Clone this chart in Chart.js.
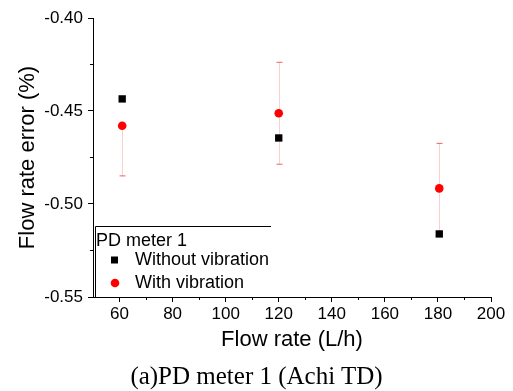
<!DOCTYPE html>
<html>
<head>
<meta charset="utf-8">
<script src="https://cdn.jsdelivr.net/npm/chart.js@4"></script>
<style>
  body { margin: 0; background: #fff; }
  #wrap { position: relative; width: 513px; height: 391px; }
  #caption {
    position: absolute; left: 0; top: 361px; width: 513px;
    text-align: center; font: 25px "Liberation Serif", serif; line-height: 30px; color: #000;
  }
</style>
</head>
<body>
<div id="wrap">
  <canvas id="chart" width="513" height="391"></canvas>
  <div id="caption">(a)PD meter 1 (Achi TD)</div>
</div>
<script>
// flow rates (L/h) and flow rate error (%)
const flowRates = [61, 120, 180.5];
const withoutVibration = [-0.4435, -0.4645, -0.5161];
const withVibration = [-0.4579, -0.4512, -0.4916];
const vibErrPlus = [0, 0.0274, 0.0242];
const vibErrMinus = [0.027, 0.0274, 0.024];

const xTicks = [60, 80, 100, 120, 140, 160, 180, 200];
const xMinor = [70, 90, 110, 130, 150, 170, 190];
const yTicks = [-0.55, -0.50, -0.45, -0.40];
const yMinor = [-0.525, -0.475, -0.425];

const legendTitle = 'PD meter 1';
const font = '"Liberation Sans", Arial, sans-serif';

const errorBars = {
  id: 'errorBars',
  beforeDatasetsDraw(chart) {
    const {ctx, scales: {x, y}} = chart;
    ctx.save();
    ctx.lineWidth = 1;
    flowRates.forEach((fr, i) => {
      const px = Math.round(x.getPixelForValue(fr)) + 0.5;
      const py = y.getPixelForValue(withVibration[i]);
      const top = y.getPixelForValue(withVibration[i] + vibErrPlus[i]);
      const bot = y.getPixelForValue(withVibration[i] - vibErrMinus[i]);
      ctx.strokeStyle = 'rgba(240,120,120,0.35)';
      ctx.beginPath();
      ctx.moveTo(px, top); ctx.lineTo(px, bot);
      ctx.stroke();
      ctx.strokeStyle = 'rgba(230,60,60,0.8)';
      ctx.beginPath();
      if (vibErrPlus[i] > 0) { ctx.moveTo(px - 3, top); ctx.lineTo(px + 3, top); }
      ctx.moveTo(px - 3, bot); ctx.lineTo(px + 3, bot);
      ctx.stroke();
    });
    ctx.restore();
  }
};

const extras = {
  id: 'extras',
  afterDraw(chart) {
    const {ctx, scales: {x, y}, chartArea} = chart;
    ctx.save();
    ctx.strokeStyle = '#000';
    ctx.lineWidth = 1;
    // minor ticks
    ctx.beginPath();
    yMinor.forEach(v => {
      const py = Math.round(y.getPixelForValue(v)) + 0.5;
      ctx.moveTo(chartArea.left, py); ctx.lineTo(chartArea.left - 3, py);
    });
    xMinor.forEach(v => {
      const px = Math.round(x.getPixelForValue(v)) + 0.5;
      ctx.moveTo(px, chartArea.bottom); ctx.lineTo(px, chartArea.bottom + 3);
    });
    ctx.stroke();

    // legend box (top and left edges)
    const lx = 95.5, ly = 226.5, rx = 271;
    ctx.beginPath();
    ctx.moveTo(lx, chartArea.bottom); ctx.lineTo(lx, ly); ctx.lineTo(rx, ly);
    ctx.stroke();

    ctx.fillStyle = '#000';
    ctx.font = '18px ' + font;
    ctx.textBaseline = 'middle';
    ctx.fillText(legendTitle, 96, 241);
    const rows = [260, 283];
    chart.data.datasets.forEach((ds, i) => {
      const cy = rows[i];
      ctx.fillStyle = ds.backgroundColor;
      if (ds.pointStyle === 'rect') {
        ctx.fillRect(111, cy - 3.5, 7, 7);
      } else {
        ctx.beginPath();
        ctx.arc(115, cy, 4.3, 0, Math.PI * 2);
        ctx.fill();
      }
      ctx.fillStyle = '#000';
      ctx.fillText(ds.label, 135, cy);
    });
    ctx.restore();
  }
};

new Chart(document.getElementById('chart'), {
  type: 'scatter',
  data: {
    datasets: [{
      label: 'Without vibration',
      data: flowRates.map((fr, i) => ({x: fr, y: withoutVibration[i]})),
      pointStyle: 'rect',
      pointRadius: 5.2,
      backgroundColor: '#000',
      borderColor: '#000',
      borderWidth: 0
    }, {
      label: 'With vibration',
      data: flowRates.map((fr, i) => ({x: fr, y: withVibration[i]})),
      pointStyle: 'circle',
      pointRadius: 4.3,
      backgroundColor: '#ff0000',
      borderColor: '#ff0000',
      borderWidth: 0
    }]
  },
  options: {
    responsive: false,
    animation: false,
    events: [],
    layout: {padding: {left: 0, top: 18, right: 22, bottom: 30}},
    plugins: {
      legend: {display: false},
      tooltip: {enabled: false}
    },
    scales: {
      x: {
        type: 'linear',
        min: 50,
        max: 200,
        afterBuildTicks: s => { s.ticks = xTicks.map(v => ({value: v})); },
        afterFit: s => { s.height = 64; },
        border: {display: true, color: '#000', width: 1},
        grid: {drawOnChartArea: false, drawTicks: true, tickLength: 5, tickColor: '#000'},
        ticks: {color: '#000', padding: 2, font: {family: font, size: 17}, maxRotation: 0},
        title: {
          display: true,
          text: 'Flow rate (L/h)',
          color: '#000',
          padding: 0,
          font: {family: font, size: 22, lineHeight: 1.9}
        }
      },
      y: {
        type: 'linear',
        min: -0.55,
        max: -0.40,
        afterBuildTicks: s => { s.ticks = yTicks.map(v => ({value: v})); },
        afterFit: s => { s.width = 93; },
        border: {display: true, color: '#000', width: 1},
        grid: {drawOnChartArea: false, drawTicks: true, tickLength: 5, tickColor: '#000'},
        ticks: {
          color: '#000',
          padding: 5,
          font: {family: font, size: 17},
          callback: v => v.toFixed(2)
        },
        title: {
          display: true,
          text: 'Flow rate error (%)',
          color: '#000',
          padding: 0,
          font: {family: font, size: 22, lineHeight: 2.5}
        }
      }
    }
  },
  plugins: [errorBars, extras]
});
</script>
</body>
</html>
